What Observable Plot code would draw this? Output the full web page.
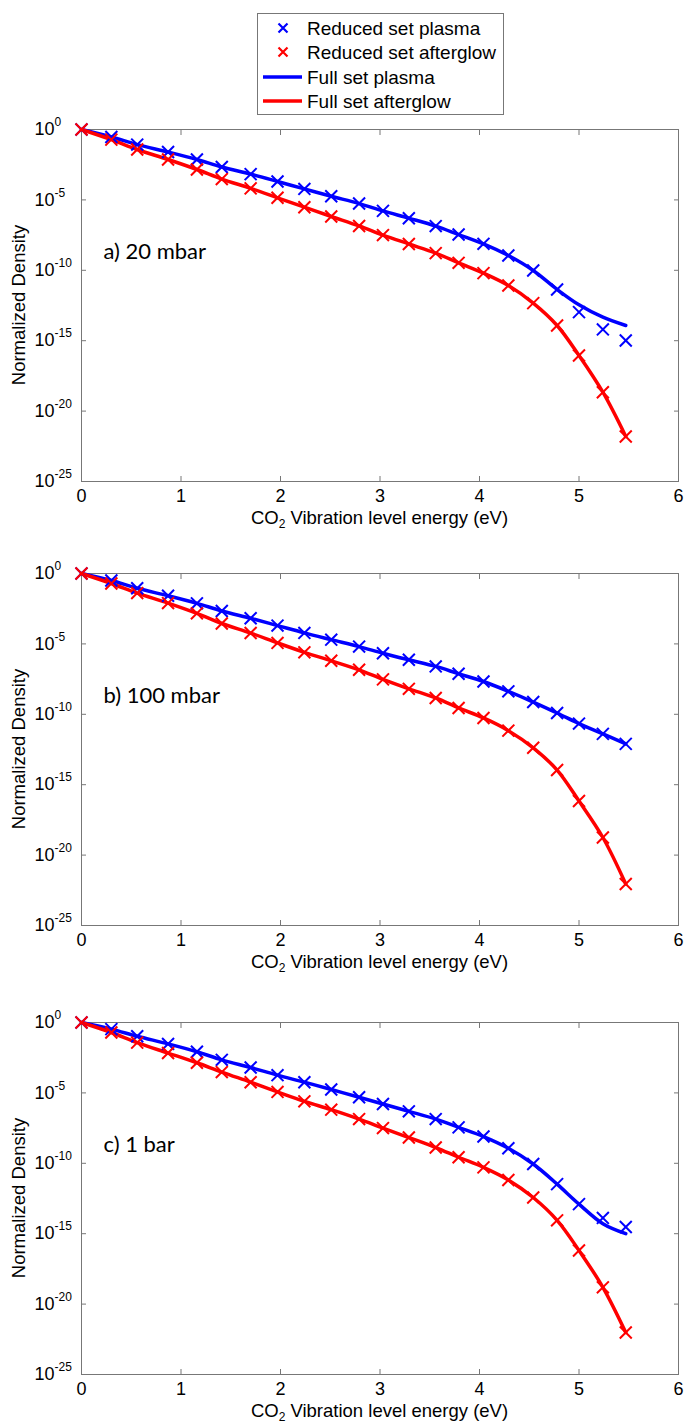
<!DOCTYPE html>
<html>
<head>
<meta charset="utf-8">
<script src="https://cdn.jsdelivr.net/npm/d3@7"></script>
<script src="https://cdn.jsdelivr.net/npm/@observablehq/plot@0.6"></script>
<style>
  body { margin: 0; background: #fff; }
  #wrap { position: relative; width: 686px; height: 1425px; overflow: hidden; background: #fff; }
  #wrap > svg { position: absolute; left: 0; }
</style>
</head>
<body>
<div id="wrap"></div>
<script>
// ---- data (log10 exponents: density = 10^-value) ----
const energy = [0, 0.30, 0.56, 0.87, 1.16, 1.41, 1.70, 1.97, 2.24, 2.51, 2.79, 3.03, 3.29, 3.56, 3.79, 4.04, 4.29, 4.54, 4.78, 5.00, 5.24, 5.47];

const panelLabels = ["a) 20 mbar", "b) 100 mbar", "c) 1 bar"];

const reducedPlasmaA   = [0, 0.53, 1.07, 1.60, 2.13, 2.66, 3.17, 3.69, 4.22, 4.74, 5.26, 5.78, 6.30, 6.86, 7.46, 8.12, 8.95, 10.01, 11.36, 12.97, 14.20, 14.99];
const fullPlasmaA      = [0, 0.53, 1.07, 1.60, 2.13, 2.66, 3.17, 3.69, 4.22, 4.74, 5.26, 5.78, 6.30, 6.86, 7.46, 8.12, 8.95, 10.01, 11.36, 12.45, 13.33, 13.92];
const reducedAfterA    = [0, 0.72, 1.42, 2.13, 2.84, 3.52, 4.18, 4.85, 5.52, 6.18, 6.85, 7.50, 8.13, 8.78, 9.47, 10.20, 11.08, 12.33, 13.92, 16.05, 18.66, 21.80];
const fullAfterA       = [0, 0.72, 1.42, 2.13, 2.84, 3.52, 4.18, 4.85, 5.52, 6.18, 6.85, 7.50, 8.13, 8.78, 9.47, 10.20, 11.08, 12.33, 13.92, 16.05, 18.66, 21.80];

const reducedPlasmaB   = [0, 0.50, 1.05, 1.58, 2.12, 2.66, 3.18, 3.70, 4.22, 4.70, 5.19, 5.66, 6.13, 6.60, 7.12, 7.67, 8.37, 9.13, 9.91, 10.66, 11.39, 12.10];
const fullPlasmaB      = [0, 0.50, 1.05, 1.58, 2.12, 2.66, 3.18, 3.70, 4.22, 4.70, 5.19, 5.66, 6.13, 6.60, 7.12, 7.67, 8.37, 9.13, 9.91, 10.66, 11.39, 12.10];
const reducedAfterB    = [0, 0.71, 1.39, 2.10, 2.83, 3.55, 4.23, 4.93, 5.60, 6.20, 6.84, 7.52, 8.19, 8.84, 9.55, 10.26, 11.16, 12.38, 13.96, 16.16, 18.75, 22.05];
const fullAfterB       = [0, 0.71, 1.39, 2.10, 2.83, 3.55, 4.23, 4.93, 5.60, 6.20, 6.84, 7.52, 8.19, 8.84, 9.55, 10.26, 11.16, 12.38, 13.96, 16.16, 18.75, 22.05];

const reducedPlasmaC   = [0, 0.47, 0.98, 1.52, 2.08, 2.65, 3.20, 3.74, 4.24, 4.76, 5.31, 5.79, 6.31, 6.86, 7.45, 8.10, 8.93, 10.05, 11.48, 12.90, 13.88, 14.52];
const fullPlasmaC      = [0, 0.47, 0.98, 1.52, 2.08, 2.65, 3.20, 3.74, 4.24, 4.76, 5.31, 5.79, 6.31, 6.86, 7.45, 8.10, 8.93, 10.05, 11.48, 12.90, 14.29, 15.00];
const reducedAfterC    = [0, 0.71, 1.43, 2.17, 2.86, 3.52, 4.24, 4.93, 5.60, 6.19, 6.86, 7.50, 8.17, 8.88, 9.57, 10.29, 11.19, 12.43, 14.05, 16.19, 18.81, 22.02];
const fullAfterC       = [0, 0.71, 1.43, 2.17, 2.86, 3.52, 4.24, 4.93, 5.60, 6.19, 6.86, 7.50, 8.17, 8.88, 9.57, 10.29, 11.19, 12.43, 14.05, 16.19, 18.81, 22.02];

const xTicks = [0, 1, 2, 3, 4, 5, 6];
const yTickExponents = [0, -5, -10, -15, -20, -25];

const legendLabels = ["Reduced set plasma", "Reduced set afterglow", "Full set plasma", "Full set afterglow"];
const legendColors = ["#0000ff", "#ff0000", "#0000ff", "#ff0000"];
const legendKinds  = ["marker", "marker", "line", "line"];

const xLabelMain = "CO";
const xLabelSub = "2";
const xLabelRest = " Vibration level energy (eV)";
const yLabel = "Normalized Density";

// ---- helpers ----
const BLUE = "#0000ff", RED = "#ff0000", AXIS = "#777";
const FONT = "'Liberation Sans', Arial, sans-serif";
const toRows = (vals) => vals.map((v, i) => ({x: energy[i], y: Math.pow(10, -v)}));
const yTicks = yTickExponents.map(e => Math.pow(10, e));
const innerYTicks = yTicks.slice(1, -1);
const innerXTicks = xTicks.slice(1, -1);

const panels = [
  {label: panelLabels[0], rp: reducedPlasmaA, fp: fullPlasmaA, ra: reducedAfterA, fa: fullAfterA, top: 119},
  {label: panelLabels[1], rp: reducedPlasmaB, fp: fullPlasmaB, ra: reducedAfterB, fa: fullAfterB, top: 563},
  {label: panelLabels[2], rp: reducedPlasmaC, fp: fullPlasmaC, ra: reducedAfterC, fa: fullAfterC, top: 1012}
];

const W = 686, H = 412, ML = 81, MR = 8, MT = 10, MB = 50;
const wrap = document.getElementById("wrap");

for (const p of panels) {
  const svg = Plot.plot({
    width: W, height: H,
    marginLeft: ML, marginRight: MR, marginTop: MT, marginBottom: MB,
    style: {fontFamily: FONT, fontSize: "18px", color: "#000", background: "transparent", overflow: "visible"},
    x: {domain: [0, 6]},
    y: {type: "log", domain: [1e-25, 1]},
    marks: [
      Plot.frame({stroke: AXIS, strokeWidth: 1}),
      // tick labels
      Plot.axisX({anchor: "bottom", ticks: xTicks, tickSize: 0, tickPadding: 8, fontSize: 18, tickFormat: d => String(d), label: null}),
      Plot.axisY({anchor: "left", ticks: yTicks, tickSize: 0, tickPadding: 47, textAnchor: "start", fontSize: 18,
                  tickFormat: d => "10^" + Math.round(Math.log10(d)), label: null}),
      // inward ticks on all sides
      Plot.axisX({anchor: "bottom", ticks: innerXTicks, tickSize: 5, dy: -5, tickFormat: () => "", label: null, stroke: AXIS}),
      Plot.axisX({anchor: "top", ticks: innerXTicks, tickSize: 5, dy: 5, tickFormat: () => "", label: null, stroke: AXIS}),
      Plot.axisY({anchor: "left", ticks: innerYTicks, tickSize: 5, dx: 5, tickFormat: () => "", label: null, stroke: AXIS}),
      Plot.axisY({anchor: "right", ticks: innerYTicks, tickSize: 5, dx: -5, tickFormat: () => "", label: null, stroke: AXIS}),
      // curves
      Plot.line(toRows(p.fp), {x: "x", y: "y", stroke: BLUE, strokeWidth: 3.5, curve: "catmull-rom"}),
      Plot.line(toRows(p.fa), {x: "x", y: "y", stroke: RED, strokeWidth: 3.5, curve: "catmull-rom"}),
      Plot.dot(toRows(p.rp), {x: "x", y: "y", symbol: "times", r: 5.5, stroke: BLUE, strokeWidth: 2}),
      Plot.dot(toRows(p.ra), {x: "x", y: "y", symbol: "times", r: 5.5, stroke: RED, strokeWidth: 2}),
      // panel annotation
      Plot.text([p.label], {text: d => d, frameAnchor: "top-left", dx: 22, dy: 122, textAnchor: "start", lineAnchor: "middle",
                            fontSize: 22, fontFamily: "Lato, 'Open Sans', sans-serif", fill: "#000"})
    ]
  });
  svg.style.top = p.top + "px";
  wrap.appendChild(svg);

  const s = d3.select(svg);
  // superscript exponents on y tick labels
  s.selectAll('g[aria-label="y-axis tick label"] text').each(function() {
    const t = this.textContent;
    const m = t.match(/^10\^(-?\d+)$/);
    if (!m) return;
    const el = d3.select(this);
    el.text(null);
    el.append("tspan").text("10");
    el.append("tspan").attr("dy", "-9").attr("font-size", "12px").text(m[1]);
  });
  const plotH = H - MT - MB;
  // y label
  s.append("text")
    .attr("transform", `translate(25,${MT + plotH / 2}) rotate(-90)`)
    .attr("text-anchor", "middle")
    .attr("font-family", FONT).attr("font-size", "18.5px").attr("fill", "#000")
    .text(yLabel);
  // x label with subscript
  const xl = s.append("text")
    .attr("x", ML + (W - ML - MR) / 2).attr("y", MT + plotH + 43)
    .attr("text-anchor", "middle")
    .attr("font-family", FONT).attr("font-size", "18.5px").attr("fill", "#000");
  xl.append("tspan").text(xLabelMain);
  xl.append("tspan").attr("dy", "4").attr("font-size", "12px").text(xLabelSub);
  xl.append("tspan").attr("dy", "-4").text(xLabelRest);
}

// ---- legend ----
const leg = d3.select(wrap).append("svg")
  .attr("width", W).attr("height", 120)
  .style("top", "0px");
leg.append("rect").attr("x", 257.5).attr("y", 13.5).attr("width", 246).attr("height", 101)
  .attr("fill", "#fff").attr("stroke", AXIS).attr("stroke-width", 1);
const rowY = [28, 52, 77, 101];
legendLabels.forEach((lab, i) => {
  const y = rowY[i];
  if (legendKinds[i] === "marker") {
    leg.append("path").attr("d", `M${283 - 4.5},${y - 4.5}L${283 + 4.5},${y + 4.5}M${283 - 4.5},${y + 4.5}L${283 + 4.5},${y - 4.5}`)
      .attr("stroke", legendColors[i]).attr("stroke-width", 2.2).attr("fill", "none");
  } else {
    leg.append("line").attr("x1", 263).attr("x2", 302).attr("y1", y).attr("y2", y)
      .attr("stroke", legendColors[i]).attr("stroke-width", 3.5);
  }
  leg.append("text").attr("x", 307).attr("y", y).attr("dy", "0.35em")
    .attr("font-family", FONT).attr("font-size", "19px").attr("fill", "#000").text(lab);
});
</script>
</body>
</html>
